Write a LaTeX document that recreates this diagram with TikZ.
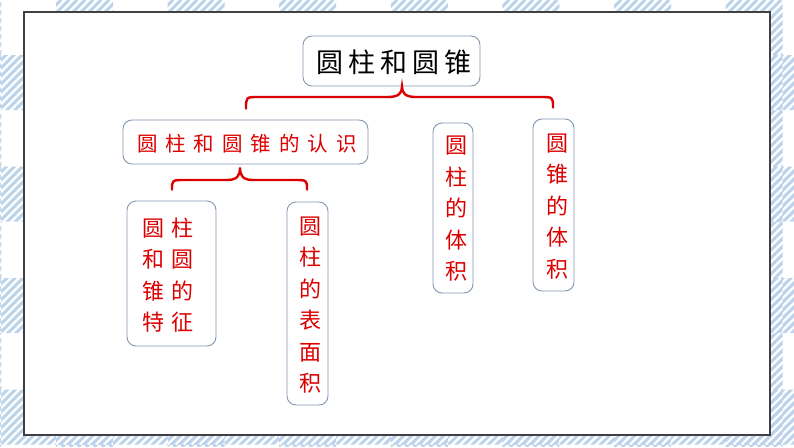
\documentclass[tikz,border=0pt]{standalone}
\usepackage{fontspec}
\newfontfamily\cjk{Noto Sans CJK SC}
\usetikzlibrary{calc}
\definecolor{stripeblue}{RGB}{189,211,236}
\definecolor{boxline}{RGB}{132,151,176}
\definecolor{txtred}{RGB}{220,0,0}
\definecolor{frameline}{RGB}{64,64,64}
\begin{document}
\begin{tikzpicture}[x=1pt,y=-1pt,
  box/.style={draw=boxline, line width=0.9pt, rounded corners=9pt, fill=white, inner sep=0pt},
  redtxt/.style={text=txtred, inner sep=0pt, align=center, font=\cjk\fontsize{22}{31.5}\selectfont},
  brace/.style={draw=txtred, line width=2.4pt, line cap=round},
  hatch/.style={draw=stripeblue, line width=3pt}]
\useasboundingbox (0,0) rectangle (794,447);
\fill[white] (0,0) rectangle (794,447);
% hatched gingham stripes
\begin{scope}
  \clip foreach \i in {-1,...,7} {(56+111.6*\i,0) rectangle ++(57,447)}
        foreach \j in {-1,...,3} {(0,55+111.5*\j) rectangle ++(794,55)};
  \foreach \k in {-450,-442,...,800} \draw[hatch] (\k,447) -- ++(447,-447);
\end{scope}
% crossings: solid blue with white lines
\foreach \i in {-1,...,7} {
  \foreach \j in {-1,...,3} {
    \begin{scope}
      \clip (56+111.6*\i,55+111.5*\j) rectangle ++(57,55);
      \fill[stripeblue] (56+111.6*\i,55+111.5*\j) rectangle ++(57,55);
      \foreach \m in {-56,-48,...,64}
        \draw[white, line width=2.2pt] (56+111.6*\i+\m,110+111.5*\j) -- ++(55,-55);
    \end{scope}
  }
}
% white frame
\draw[frameline, line width=1.2pt, fill=white] (24,12) rectangle (770,435);

% boxes
\node[box, minimum width=177pt, minimum height=50pt] (title) at (391.5,61) {};
\node[inner sep=0pt, font=\cjk\fontsize{27}{30}\selectfont] (titletxt) at (394,62)
  {圆\kern5pt 柱\kern5pt 和\kern5pt 圆\kern5pt 锥};

\node[box, minimum width=245pt, minimum height=44pt] (recog) at (245.5,142) {};
\node[redtxt, font=\cjk\fontsize{20.5}{24}\selectfont] (recogtxt) at (247,144)
  {圆\kern8pt 柱\kern8pt 和\kern8pt 圆\kern8pt 锥\kern8pt 的\kern8pt 认\kern8pt 识};

\node[box, minimum width=89pt, minimum height=145pt] (feat) at (171.5,273.5) {};
\node[redtxt] (feattxt) at (168,275)
  {圆\kern7pt 柱\\和\kern7pt 圆\\锥\kern7pt 的\\特\kern7pt 征};

\node[box, minimum width=41pt, minimum height=203pt] (surf) at (307.5,303.5) {};
\node[redtxt] (surftxt) at (310,305) {圆\\柱\\的\\表\\面\\积};

\node[box, minimum width=40pt, minimum height=170pt] (cylv) at (453,208) {};
\node[redtxt] (cylvtxt) at (456.5,209) {圆\\柱\\的\\体\\积};

\node[box, minimum width=41pt, minimum height=172pt] (conev) at (553.5,205) {};
\node[redtxt] (conevtxt) at (557,206.5) {圆\\锥\\的\\体\\积};

% top brace
\coordinate (t1) at ($(title.south)+(10.5,0)$);
\coordinate (l1) at ($(recog.north)+(0.5,-11)$);
\coordinate (r1) at ($(conev.north)+(-0.5,-11)$);
\draw[brace] (l1) .. controls (246,97) .. (259,97) -- (388,97)
  .. controls (399,97) and (402,93) .. (t1)
  .. controls (402,93) and (405,97) .. (416,97) -- (540,97)
  .. controls (553,97) .. (r1);

% second brace
\coordinate (t2) at ($(recog.south)+(-5.5,3)$);
\coordinate (l2) at ($(feat.north)+(0.5,-11)$);
\coordinate (r2) at ($(surf.north)+(-0.5,-12)$);
\draw[brace] (l2) .. controls (172,180) .. (185,180) -- (227,180)
  .. controls (237,180) and (240,176) .. (t2)
  .. controls (240,176) and (243,180) .. (253,180) -- (294,180)
  .. controls (307,180) .. (r2);
\end{tikzpicture}
\end{document}
